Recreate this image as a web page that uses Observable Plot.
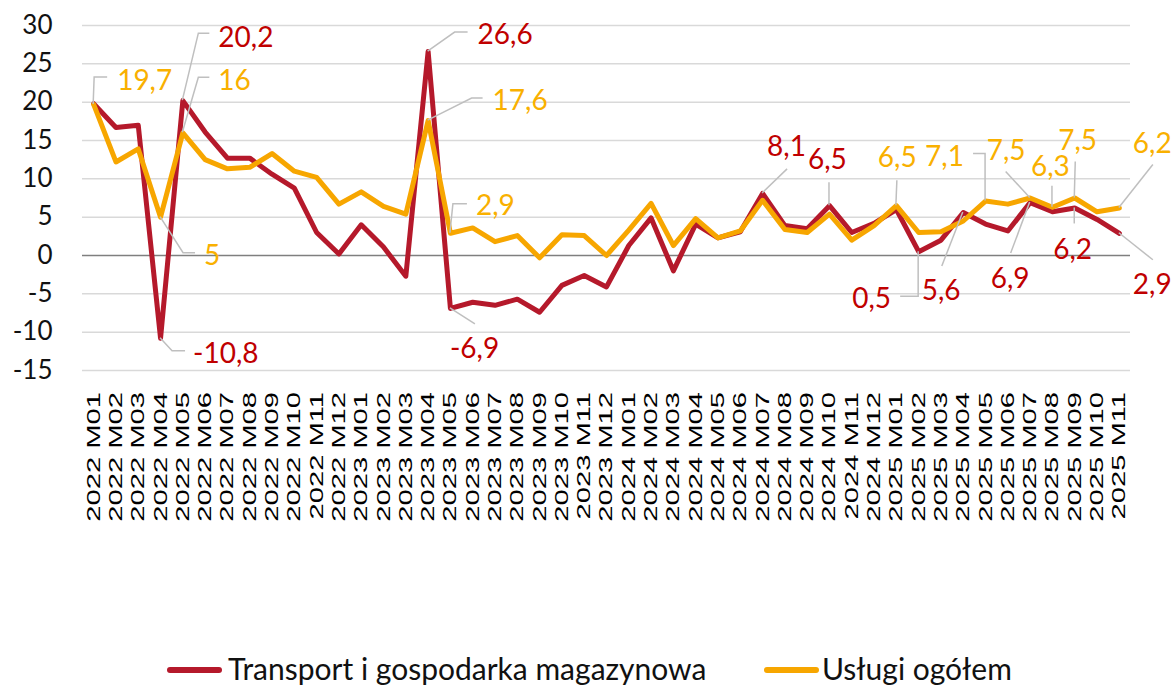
<!DOCTYPE html>
<html><head><meta charset="utf-8">
<script src="https://cdn.jsdelivr.net/npm/d3@7"></script>
<script src="https://cdn.jsdelivr.net/npm/@observablehq/plot@0.6"></script>
<style>
body{margin:0;background:#fff;}
#wrap{position:relative;width:1173px;height:688px;overflow:hidden;}
.sw{position:absolute;height:6px;border-radius:3px;}
.lt{position:absolute;font-family:Lato,sans-serif;font-size:30px;color:#111;line-height:40px;white-space:nowrap;}
</style></head><body>
<div id="wrap"></div>
<script>
const categories = [
 "2022 M01","2022 M02","2022 M03","2022 M04","2022 M05","2022 M06","2022 M07","2022 M08","2022 M09","2022 M10","2022 M11","2022 M12",
 "2023 M01","2023 M02","2023 M03","2023 M04","2023 M05","2023 M06","2023 M07","2023 M08","2023 M09","2023 M10","2023 M11","2023 M12",
 "2024 M01","2024 M02","2024 M03","2024 M04","2024 M05","2024 M06","2024 M07","2024 M08","2024 M09","2024 M10","2024 M11","2024 M12",
 "2025 M01","2025 M02","2025 M03","2025 M04","2025 M05","2025 M06","2025 M07","2025 M08","2025 M09","2025 M10","2025 M11"
];
const transport = [19.8,16.7,17.0,-10.8,20.2,16.1,12.7,12.7,10.6,8.8,3.0,0.2,
 4.0,1.1,-2.7,26.6,-6.9,-6.1,-6.5,-5.7,-7.4,-3.9,-2.6,-4.1,
 1.3,4.9,-2.0,4.1,2.3,3.1,8.1,3.9,3.5,6.5,3.0,4.2,
 6.0,0.5,2.0,5.6,4.1,3.2,6.9,5.7,6.2,4.7,2.9];
const uslugi = [19.7,12.2,13.9,5,16,12.5,11.3,11.5,13.3,11.0,10.2,6.7,
 8.3,6.4,5.4,17.6,2.9,3.6,1.8,2.6,-0.3,2.7,2.6,0.0,
 3.3,6.8,1.3,4.8,2.3,3.2,7.2,3.4,3.0,5.4,2.0,3.9,
 6.5,3.0,3.1,4.5,7.1,6.7,7.5,6.3,7.5,5.7,6.2];
const seriesNames = ["Transport i gospodarka magazynowa","Usługi ogółem"];
const yTicks = [-15,-10,-5,0,5,10,15,20,25,30];

const RED = "#b5192b", ORANGE = "#f7a600";
const RED_T = "#c00000", ORANGE_T = "#f9b000";

// label layout: series, index, label offset (px) and leader path offsets (px)
const annotations = [
 {s:0,i:4, dx:36,dy:-63, L:[[16,-67],[27,-67]]},
 {s:0,i:3, dx:33,dy:15, L:[[12,13],[25,13]]},
 {s:0,i:15,dx:50,dy:-17, L:[[27,-19],[40,-19]]},
 {s:0,i:16,dx:0,dy:40, L:[[25,16]]},
 {s:0,i:30,dx:5,dy:-47, L:[[25,-24]]},
 {s:0,i:33,dx:-21,dy:-46, L:[[0,-23]]},
 {s:0,i:37,dx:-66,dy:47, L:[[0,45],[-18,45]]},
 {s:0,i:39,dx:-41,dy:78, L:[[-21,54]]},
 {s:0,i:42,dx:-39,dy:76, L:[[-19,51]]},
 {s:0,i:44,dx:-21,dy:41, L:[[0,16]]},
 {s:0,i:46,dx:14,dy:51, L:[[34,27]]},
 {s:1,i:0, dx:24,dy:-24, L:[[1,-27],[14,-27]]},
 {s:1,i:4, dx:36,dy:-52, L:[[16,-55],[27,-55]]},
 {s:1,i:3, dx:44,dy:38, L:[[23,36],[35,36]]},
 {s:1,i:15,dx:65,dy:-20, L:[[44,-22],[55,-22]]},
 {s:1,i:16,dx:26,dy:-28, L:[[3,-29],[17,-29]]},
 {s:1,i:36,dx:-18,dy:-48, L:[[1,-25]]},
 {s:1,i:40,dx:-60,dy:-45, L:[[0,-47],[-12,-47]]},
 {s:1,i:42,dx:-43,dy:-48, L:[[-24,-26]]},
 {s:1,i:43,dx:-21,dy:-41, L:[[0,-21]]},
 {s:1,i:44,dx:-16,dy:-58, L:[[1,-36]]},
 {s:1,i:46,dx:14,dy:-65, L:[[34,-43]]}
];

const rows = [];
categories.forEach((c,k)=>{
  rows.push({cat:c, v:transport[k], s:seriesNames[0]});
  rows.push({cat:c, v:uslugi[k], s:seriesNames[1]});
});
const fmt = v => String(v).replace(".", ",");

function xLabels(index, scales, values, dims) {
  const g = d3.create("svg:g");
  const y0 = dims.height - dims.marginBottom + 22;
  for (const c of categories) {
    g.append("text")
      .attr("transform", `translate(${scales.x(c)},${y0}) rotate(-90) scale(1.62,1)`)
      .attr("text-anchor","end").attr("dy","0.36em")
      .attr("font-family","'Liberation Sans',Arial,sans-serif").attr("font-size",18)
      .attr("fill","#000").text(c);
  }
  return g.node();
}

function labels(index, scales) {
  const g = d3.create("svg:g");
  for (const a of annotations) {
    const v = (a.s === 0 ? transport : uslugi)[a.i];
    const px = scales.x(categories[a.i]), py = scales.y(v);
    const pts = [[0,0], ...a.L].map(([dx,dy]) => [px+dx, py+dy]);
    g.append("path").attr("d", d3.line()(pts)).attr("fill","none")
      .attr("stroke","#bfbfbf").attr("stroke-width",1.5);
  }
  for (const a of annotations) {
    const v = (a.s === 0 ? transport : uslugi)[a.i];
    const px = scales.x(categories[a.i]), py = scales.y(v);
    g.append("text").attr("x", px+a.dx).attr("y", py+a.dy).attr("dy","0.36em")
      .attr("text-anchor","start")
      .attr("fill", a.s === 0 ? RED_T : ORANGE_T)
      .attr("font-family","Lato,sans-serif").attr("font-size",28).text(fmt(v));
  }
  return g.node();
}

const chart = Plot.plot({
  width: 1173, height: 530,
  marginLeft: 82, marginRight: 43, marginTop: 25, marginBottom: 160,
  style: {fontFamily: "Lato, sans-serif", fontSize: "26px", color: "#111", background: "#fff"},
  x: {type: "point", domain: categories, padding: 0.5, round: false, axis: null},
  y: {domain: [-15, 30], ticks: yTicks, tickFormat: d => String(d), tickSize: 0, tickPadding: 30, label: null},
  marks: [
    Plot.ruleY(yTicks.filter(d => d !== 0), {stroke: "#d9d9d9", strokeWidth: 1.5}),
    Plot.ruleY([0], {stroke: "#7f7f7f", strokeWidth: 1.5}),
    Plot.line(rows.filter(d => d.s === seriesNames[0]), {x: "cat", y: "v", stroke: RED, strokeWidth: 5, strokeLinejoin: "round"}),
    Plot.line(rows.filter(d => d.s === seriesNames[1]), {x: "cat", y: "v", stroke: ORANGE, strokeWidth: 5, strokeLinejoin: "round"}),
    xLabels,
    labels
  ]
});
const wrap = document.getElementById("wrap");
wrap.appendChild(chart);

const legend = [
  {name: seriesNames[0], color: RED, sw: 167, tx: 228},
  {name: seriesNames[1], color: ORANGE, sw: 764, tx: 822}
];
for (const l of legend) {
  const s = document.createElement("div");
  s.className = "sw"; s.style.left = l.sw + "px"; s.style.width = "55px"; s.style.top = "667px"; s.style.background = l.color;
  wrap.appendChild(s);
  const t = document.createElement("div");
  t.className = "lt"; t.style.left = l.tx + "px"; t.style.top = "648px"; t.textContent = l.name;
  wrap.appendChild(t);
}
</script>
</body></html>
